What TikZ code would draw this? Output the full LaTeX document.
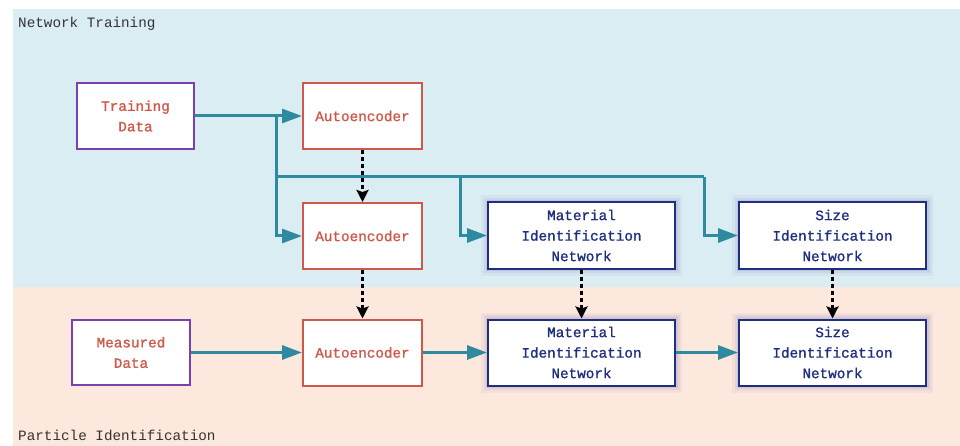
\documentclass[tikz,border=0pt]{standalone}
\usepackage{fontspec}
\setmonofont{Liberation Mono}
\newfontfamily\boxfont{Liberation Mono}[BoldFont={Liberation Mono}, BoldFeatures={FakeBold=1.2}]
\usetikzlibrary{arrows.meta}
\definecolor{bgblue}{HTML}{DAEDF3}
\definecolor{bgpeach}{HTML}{FCE8DC}
\definecolor{teal2}{HTML}{2E8A9E}
\definecolor{redb}{HTML}{D0584A}
\definecolor{purpb}{HTML}{7B3FB0}
\definecolor{navyb}{HTML}{1F2F80}
\definecolor{glow}{HTML}{8A7FC0}
\definecolor{lbl}{HTML}{333333}
\tikzset{
  box/.style={draw, line width=2pt, fill=white, align=center, inner sep=0pt,
    font=\boxfont\bfseries\fontsize{14.3}{20.5}\selectfont},
  databox/.style={box, draw=purpb, text=redb, minimum width=117pt, minimum height=66pt},
  aebox/.style={box, draw=redb, text=redb, minimum width=119pt, minimum height=66pt},
  netbox/.style={box, draw=navyb, text=navyb, minimum width=187pt, minimum height=66pt,
    preaction={draw=glow, line width=14pt, draw opacity=0.08},
    preaction={draw=glow, line width=9pt, draw opacity=0.12},
    preaction={draw=glow, line width=5pt, draw opacity=0.18}},
  flow/.style={draw=teal2, line width=3pt, -{Triangle[length=20pt,width=14pt]}},
  flowline/.style={draw=teal2, line width=3pt},
  transfer/.style={draw=black, line width=3pt, dash pattern=on 4pt off 3pt,
    -{Stealth[length=12pt,width=12pt,inset=2pt]}},
  region/.style={font=\ttfamily\fontsize{14.3}{17}\selectfont, text=lbl, anchor=west, inner sep=0pt}
}
\begin{document}
\begin{tikzpicture}[x=1pt,y=-1pt]
\useasboundingbox (0,0) rectangle (960,446);
\fill[bgblue] (13,9) rectangle (960,287);
\fill[bgpeach] (13,287) rectangle (960,446);
\node[region] (lt) at (18,24) {Network Training};
\node[region] (lp) at (18,435) {Particle Identification};

\node[databox] (td) at (135.5,116) {Training\\Data};
\node[aebox] (ae1) at (362.5,116) {Autoencoder};
\node[aebox] (ae2) at (362.5,236) {Autoencoder};
\node[netbox] (m1) at (581.5,235.5) {Material\\Identification\\Network};
\node[netbox] (s1) at (832.5,235.5) {Size\\Identification\\Network};
\node[databox, minimum width=118pt, minimum height=65pt] (md) at (131,352.5) {Measured\\Data};
\node[aebox] (ae3) at (362.5,352.5) {Autoencoder};
\node[netbox] (m2) at (581.5,352.5) {Material\\Identification\\Network};
\node[netbox] (s2) at (832.5,352.5) {Size\\Identification\\Network};

\coordinate (j1) at (276,116);
\coordinate (j2) at (276,177);
\coordinate (j3) at (460,177);
\coordinate (j4) at (704,177);

\draw[flow] (td.east) -- (ae1.west);
\draw[flow] (j1) |- (ae2.west);
\draw[flowline] (j2) -- (j4);
\draw[flow] (j3) |- (m1.west);
\draw[flow] (j4) |- (s1.west);

\draw[transfer] (ae1.south) -- (ae2.north);
\draw[transfer] (ae2.south) -- (ae3.north);
\draw[transfer] (m1.south) -- (m2.north);
\draw[transfer] (s1.south) -- (s2.north);

\draw[flow] (md.east) -- (ae3.west);
\draw[flow] (ae3.east) -- (m2.west);
\draw[flow] (m2.east) -- (s2.west);
\end{tikzpicture}
\end{document}
